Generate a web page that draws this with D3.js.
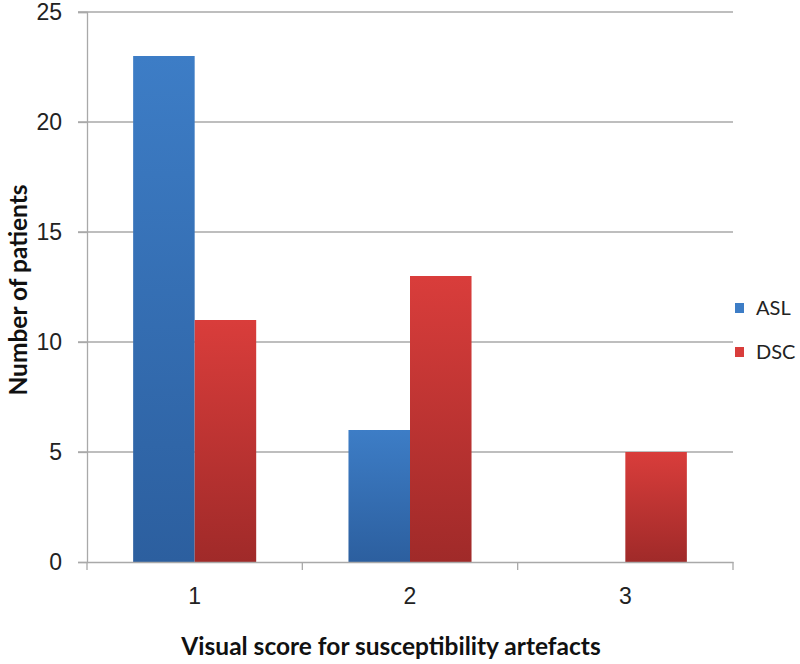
<!DOCTYPE html>
<html>
<head>
<meta charset="utf-8">
<script src="https://cdn.jsdelivr.net/npm/d3@7"></script>
<style>
  body { margin: 0; background: #fff; }
  svg { font-family: Lato, "Open Sans", sans-serif; }
  .grid line { stroke: #a9a9a9; stroke-width: 1.3; }
  .tick text { fill: #222; font-size: 23px; }
  .title { fill: #111; font-size: 24.5px; font-weight: bold; }
  .legend text { fill: #222; font-size: 20px; }
</style>
</head>
<body>
<svg id="chart" width="800" height="664"></svg>
<script>
const categories = ['1', '2', '3'];
const seriesNames = ['ASL', 'DSC'];
const asl = [23, 6, 0];
const dsc = [11, 13, 5];
const yTicks = [0, 5, 10, 15, 20, 25];

const [plotLeft, plotRight, plotTop, plotBottom] = [87, 733, 12, 562];
const colors = {
  ASL: ['#3d7dc6', '#2c5f9f'],
  DSC: ['#d93d3b', '#a02a29'],
};

const svg = d3.select('#chart');

const x = d3.scaleBand()
    .domain(categories)
    .range([plotLeft, plotRight]);
const xs = d3.scaleBand()
    .domain(seriesNames)
    .range([0, x.bandwidth()])
    .paddingOuter(0.75)
    .paddingInner(0);
const y = d3.scaleLinear()
    .domain([0, 25])
    .range([plotBottom, plotTop]);

const defs = svg.append('defs');
seriesNames.forEach(s => {
  const g = defs.append('linearGradient')
      .attr('id', `grad-${s}`)
      .attr('x1', 0).attr('y1', 0).attr('x2', 0).attr('y2', 1);
  g.append('stop').attr('offset', '0%').attr('stop-color', colors[s][0]);
  g.append('stop').attr('offset', '100%').attr('stop-color', colors[s][1]);
});

// gridlines
svg.append('g')
    .attr('class', 'grid')
  .selectAll('line')
  .data(yTicks.slice(1))
  .join('line')
    .attr('x1', plotLeft - 9)
    .attr('x2', plotRight)
    .attr('y1', d => y(d))
    .attr('y2', d => y(d));

const yAxis = svg.append('g')
    .attr('transform', `translate(${plotLeft},0)`)
    .call(d3.axisLeft(y).tickValues(yTicks).tickSize(9).tickPadding(16));
yAxis.select('.domain').attr('stroke', '#a9a9a9').attr('stroke-width', 1.3);
yAxis.selectAll('.tick line').attr('stroke', '#a9a9a9').attr('stroke-width', 1.3);

// bars
const rows = categories.map((c, i) => ({ c, values: [asl[i], dsc[i]] }));
svg.append('g')
  .selectAll('g')
  .data(rows)
  .join('g')
    .attr('transform', d => `translate(${x(d.c)},0)`)
  .selectAll('rect')
  .data(d => d.values.map((v, j) => ({ s: seriesNames[j], v })))
  .join('rect')
    .attr('x', d => xs(d.s))
    .attr('width', xs.bandwidth())
    .attr('y', d => y(d.v))
    .attr('height', d => y(0) - y(d.v))
    .attr('fill', d => `url(#grad-${d.s})`);

// x axis
const xAxis = svg.append('g')
    .attr('transform', `translate(0,${plotBottom})`)
    .call(d3.axisBottom(x).tickSize(0).tickPadding(26));
xAxis.select('.domain').attr('stroke', '#a9a9a9').attr('stroke-width', 1.3);
svg.append('g')
  .selectAll('line')
  .data(d3.range(categories.length + 1))
  .join('line')
    .attr('x1', i => plotLeft + i * x.bandwidth())
    .attr('x2', i => plotLeft + i * x.bandwidth())
    .attr('y1', plotBottom)
    .attr('y2', plotBottom + 8)
    .attr('stroke', '#a9a9a9')
    .attr('stroke-width', 1.3);

// titles
svg.append('text')
    .attr('class', 'title')
    .attr('x', 391)
    .attr('y', 655)
    .attr('text-anchor', 'middle')
    .text('Visual score for susceptibility artefacts');
svg.append('text')
    .attr('class', 'title')
    .attr('transform', 'translate(27,290) rotate(-90)')
    .attr('text-anchor', 'middle')
    .text('Number of patients');

// legend
const legend = svg.append('g')
    .attr('class', 'legend')
  .selectAll('g')
  .data(seriesNames)
  .join('g')
    .attr('transform', (d, i) => `translate(735,${308 + i * 44})`);
legend.append('rect')
    .attr('y', -5)
    .attr('width', 9)
    .attr('height', 10)
    .attr('fill', d => colors[d][0]);
legend.append('text')
    .attr('x', 21)
    .attr('dy', '0.35em')
    .text(d => d);
</script>
</body>
</html>
